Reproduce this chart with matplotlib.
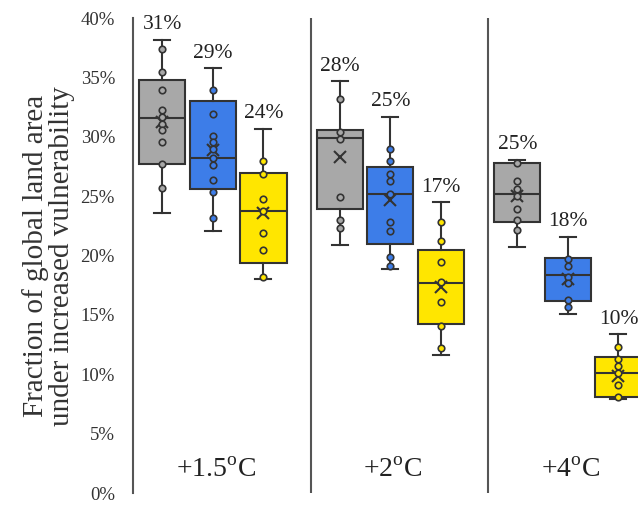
import matplotlib
matplotlib.use("Agg")
import matplotlib.pyplot as plt
import numpy as np

plt.rcParams['font.family'] = ['Liberation Serif', 'DejaVu Serif']
plt.rcParams['mathtext.fontset'] = 'custom'
plt.rcParams['mathtext.rm'] = 'Liberation Serif'

scenarios = ['+1.5$^{\\mathrm{o}}$C', '+2$^{\\mathrm{o}}$C', '+4$^{\\mathrm{o}}$C']
series = ['gray', 'blue', 'yellow']
labels = [['31%', '29%', '24%'], ['28%', '25%', '17%'], ['25%', '18%', '10%']]

# box statistics (percent) per scenario, per series
whislo = [[23.6, 22.1, 18.0], [20.9, 18.9, 11.6], [20.7, 15.1, 7.9]]
q1     = [[27.7, 25.6, 19.4], [23.9, 21.0, 14.2], [22.8, 16.2, 8.1]]
med    = [[31.6, 28.2, 23.8], [29.9, 25.2, 17.7], [25.2, 18.4, 10.1]]
q3     = [[34.8, 33.0, 27.0], [30.6, 27.5, 20.5], [27.8, 19.8, 11.5]]
whishi = [[38.2, 35.8, 30.7], [34.7, 31.7, 24.5], [28.1, 21.6, 13.4]]
means  = [[31.3, 28.9, 23.6], [28.3, 24.7, 17.4], [25.0, 18.0, 9.9]]

points = [
    [[37.4, 35.5, 34.0, 32.3, 31.7, 31.1, 30.6, 29.6, 27.7, 25.7],
     [34.0, 31.9, 30.1, 29.6, 29.0, 28.2, 27.6, 26.4, 25.4, 23.2],
     [28.0, 26.9, 24.8, 23.8, 21.9, 20.5, 18.2]],
    [[33.2, 30.4, 29.8, 24.9, 23.0, 22.3],
     [29.0, 28.0, 26.9, 26.3, 25.2, 22.8, 22.1, 19.9, 19.1],
     [22.8, 21.2, 19.5, 17.8, 16.1, 14.1, 12.2]],
    [[27.8, 26.3, 25.6, 25.0, 23.9, 23.0, 22.2],
     [19.7, 19.1, 18.2, 17.7, 16.3, 15.7],
     [12.3, 11.3, 10.7, 10.1, 9.1, 8.1]],
]

colors = {'gray': '#a8a8a8', 'blue': '#3d7de8', 'yellow': '#ffe600'}
edge = '#333333'
offsets = [0.165, 0.45, 0.735]
width = 0.26

fig = plt.figure(figsize=(6.38, 5.08), dpi=100)
ax = fig.add_axes([133/638, 15/508, 1 - 133/638, (493-18.3)/508])

for g in range(3):
    for s in range(3):
        pos = g + offsets[s]
        st = dict(whislo=whislo[g][s], q1=q1[g][s], med=med[g][s], q3=q3[g][s],
                  whishi=whishi[g][s], mean=means[g][s], fliers=[])
        ax.bxp([st], positions=[pos], widths=width, patch_artist=True,
               showmeans=True, meanline=False, showcaps=True,
               boxprops=dict(facecolor=colors[series[s]], edgecolor=edge, linewidth=1.5),
               medianprops=dict(color=edge, linewidth=1.5),
               whiskerprops=dict(color=edge, linewidth=1.5),
               capprops=dict(color=edge, linewidth=1.5),
               meanprops=dict(marker='x', markeredgecolor=edge, markersize=8,
                              markeredgewidth=1.5),
               capwidths=0.09, zorder=2)
        ax.scatter([pos] * len(points[g][s]), points[g][s], s=22,
                   facecolor=colors[series[s]], edgecolor=edge, linewidth=1.2, zorder=4)
        ax.text(pos, whishi[g][s] + 0.45, labels[g][s], ha='center', va='bottom',
                fontsize=15.5, color='#222222')
    ax.text(g + 0.465, 1.9, scenarios[g], ha='center', va='center', fontsize=20,
            color='#222222')

for xs in [1, 2]:
    ax.axvline(xs, color='#555555', linewidth=1.5, zorder=1)

ax.set_xlim(0, 2.845)
ax.set_ylim(0, 40)
ax.set_yticks(np.arange(0, 41, 5))
ax.set_yticklabels([f'{v}%' for v in range(0, 41, 5)], fontsize=13.5, color='#333333')
ax.tick_params(axis='y', length=0, pad=13)
ax.set_xticks([])
for sp in ['top', 'right', 'bottom']:
    ax.spines[sp].set_visible(False)
ax.spines['left'].set_color('#555555')
ax.spines['left'].set_linewidth(1.5)
ax.set_ylabel('Fraction of global land area\nunder increased vulnerability',
              fontsize=21, color='#333333', labelpad=4, linespacing=1.0)

fig.savefig('out.png', dpi=100)
